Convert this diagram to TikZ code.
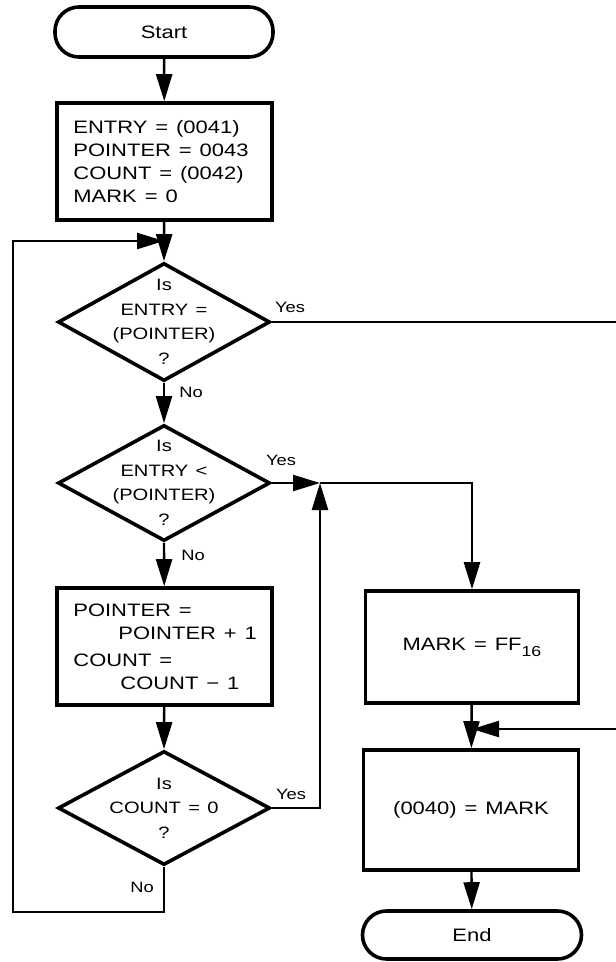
\documentclass[tikz,border=0pt]{standalone}
\usepackage{graphicx}
\usepackage{fontspec}
\setmainfont{Liberation Sans}[WordSpace=1.3]
\usetikzlibrary{arrows.meta,shapes.geometric}
\newcommand{\hs}[1]{\scalebox{1.22}[1]{#1}}
\begin{document}
\begin{tikzpicture}[x=1pt,y=-1pt,
  shapeline/.style={draw=black, line width=3.6pt},
  term/.style={shapeline, rectangle, rounded corners=24pt, minimum width=218pt, minimum height=50pt, inner sep=0pt, font=\fontsize{18}{23}\selectfont},
  procbox/.style={shapeline, rectangle, minimum width=215pt, minimum height=117pt, inner sep=0pt, font=\fontsize{18}{23}\selectfont},
  boxtext/.style={align=left, inner sep=0pt, anchor=west, font=\fontsize{18}{23}\selectfont},
  dia/.style={shapeline, diamond, minimum width=212pt, inner sep=0pt},
  dtext/.style={align=center, inner sep=0pt, font=\fontsize{16.5}{24.5}\selectfont},
  lbl/.style={inner sep=0pt, font=\fontsize{15}{15}\selectfont},
  conn/.style={line width=2.4pt},
  arr/.style={conn, -{Triangle[length=27pt,width=16pt]}}
]
\useasboundingbox (0,0) rectangle (616,962);
\begin{scope}
\clip (0,0) rectangle (616,962);

% nodes
\node[term] (start) at (164,32) {\hs{Start}};
\node[procbox] (init) at (164.5,161.5) {};
\node[boxtext] at ([xshift=18pt]init.west) {\hs{ENTRY = (0041)}\\\hs{POINTER = 0043}\\\hs{COUNT = (0042)}\\\hs{MARK = 0}};
\node[dia, minimum height=118pt] (d1) at (164,322) {};
\node[dtext] at (d1) {\hs{Is}\\\hs{ENTRY =}\\\hs{(POINTER)}\\\hs{?}};
\node[dia, minimum height=116pt] (d2) at (164,483) {};
\node[dtext] at (d2) {\hs{Is}\\\hs{ENTRY <}\\\hs{(POINTER)}\\\hs{?}};
\node[procbox] (upd) at (164.5,646.5) {};
\node[boxtext] at ([xshift=18pt]upd.west) {\hs{POINTER =}\\\hspace*{45pt}\hs{POINTER + 1}\\[4pt]\hs{COUNT =}\\\hspace*{47pt}\hs{COUNT − 1}};
\node[dia, minimum height=114pt] (d3) at (164,808) {};
\node[dtext] at (d3) {\hs{Is}\\\hs{COUNT = 0}\\\hs{?}};

\node[procbox, minimum width=213pt, minimum height=112pt] (mark) at (472,647) {\hs{MARK = FF}\raisebox{-6pt}{\fontsize{14.5}{14.5}\selectfont\hs{16}}};
\node[procbox, minimum width=215pt, minimum height=120pt] (store) at (471,810) {\hs{(0040) = MARK}};
\node[term, minimum width=219pt, minimum height=48pt] (end) at (472,935) {\hs{End}};

% junction coordinates
\coordinate (j1) at (164,241);
\coordinate (j2) at (320,483);
\coordinate (j3) at (472,729);
\coordinate (n2) at (13,912);
\coordinate (r2) at (640,729);

% connectors
\draw[arr] (start) -- (init);
\draw[arr] (init) -- (d1.north);
\draw[arr] (d1.south) -- (d2.north);
\draw[arr] (d2.south) -- (upd);
\draw[arr] (upd) -- (d3.north);
\draw[arr] (d3.south) |- (n2) |- (j1);
\draw[arr] (d2.east) -- (j2);
\draw[arr] (j2) -| (mark);
\draw[arr] (d3.east) -| (j2);
\draw[arr] (d1.east) -| (r2) -- (j3);
\draw[arr] (mark) -- (store);
\draw[arr] (store) -- (end);

% labels
\node[lbl] at (290,307) {\hs{Yes}};
\node[lbl] at (191,392) {\hs{No}};
\node[lbl] at (281,460) {\hs{Yes}};
\node[lbl] at (193,555) {\hs{No}};
\node[lbl] at (291,794) {\hs{Yes}};
\node[lbl] at (142,887) {\hs{No}};
\end{scope}
\end{tikzpicture}
\end{document}
